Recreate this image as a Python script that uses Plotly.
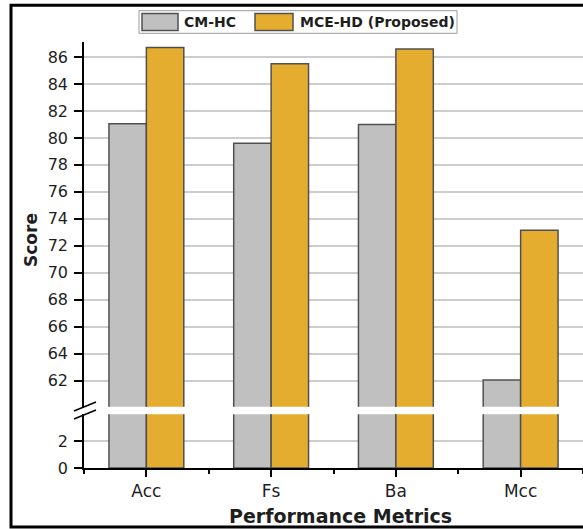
import plotly.graph_objects as go

# ---- data -------------------------------------------------------------
categories = ["Acc", "Fs", "Ba", "Mcc"]
series_names = ["CM-HC", "MCE-HD (Proposed)"]
cm_hc = [81.05, 79.6, 81.0, 62.05]
mce_hd = [86.7, 85.5, 86.6, 73.15]
upper_ticks = [62, 64, 66, 68, 70, 72, 74, 76, 78, 80, 82, 84, 86]
lower_ticks = [0, 2]

# ---- styling ----------------------------------------------------------
W, H = 583, 529
L, R, T, B = 84, 0, 42, 61
FONT = "DejaVu Sans"
TXT = "#1e1e1e"
fills = ["#c0c0c0", "#e5ad2f"]
edge = "#505050"
GRID = "#cdcdcd"

pw, ph = W - L - R, H - T - B


def px(x):
    return (x - L) / pw


def py(y):
    return (H - B - y) / ph


xs = list(range(len(categories)))
values = [cm_hc, mce_hd]

fig = go.Figure()
# the same bars are drawn on both halves of the broken axis
for yax in ["y", "y2"]:
    for i, (name, vals) in enumerate(zip(series_names, values)):
        fig.add_trace(go.Bar(
            x=xs, y=vals, name=name, yaxis=yax, offsetgroup=str(i),
            marker=dict(color=fills[i], line=dict(color=edge, width=1.5)),
            showlegend=False, hoverinfo="x+y",
        ))

axis_common = dict(
    showline=True, linecolor="black", linewidth=1.5,
    ticks="outside", ticklen=8, tickwidth=1.5, tickcolor="black",
    showgrid=True, gridcolor=GRID, gridwidth=1.5, zeroline=False,
    tickfont=dict(family=FONT, size=16, color=TXT),
    ticklabelstandoff=3,
)

fig.update_layout(
    width=W, height=H,
    margin=dict(l=L, r=R, t=T, b=B, pad=0),
    paper_bgcolor="white", plot_bgcolor="white",
    barmode="group", bargap=0.4, bargroupgap=0,
    showlegend=False,
    xaxis=dict(
        range=[-0.5, 3.5], tickvals=xs, ticktext=categories,
        showline=True, linecolor="black", linewidth=1.5,
        ticks="outside", ticklen=7, tickwidth=1.5, tickcolor="black",
        minor=dict(tick0=0.5, dtick=1, ticks="outside", ticklen=4,
                   tickwidth=1.5, tickcolor="black"),
        showgrid=False, zeroline=False, anchor="y",
        tickfont=dict(family=FONT, size=17, color=TXT),
    ),
    yaxis=dict(domain=[0, py(414.3)], range=[0, 4], tickvals=lower_ticks,
               **axis_common),
    yaxis2=dict(domain=[py(406.7), 1], range=[60.07, 87.11],
                tickvals=upper_ticks, anchor="x", **axis_common),
)

shapes = []
# axis-break marks on the y axis
for y0, y1 in [(411, 402), (419, 410)]:
    shapes.append(dict(type="line", xref="paper", yref="paper",
                       x0=px(74), y0=py(y0), x1=px(96), y1=py(y1),
                       line=dict(color="black", width=1.5)))

# legend box with swatches
shapes.append(dict(type="rect", xref="paper", yref="paper",
                   x0=px(139), x1=px(457), y0=py(33.3), y1=py(10.7),
                   line=dict(color="#9a9a9a", width=1), fillcolor="white"))
swatch_x = [(142, 178), (255, 293)]
text_x = [182, 298]
annotations = []
for i, name in enumerate(series_names):
    a, b = swatch_x[i]
    shapes.append(dict(type="rect", xref="paper", yref="paper",
                       x0=px(a), x1=px(b), y0=py(30.5), y1=py(13.5),
                       line=dict(color=edge, width=1.5), fillcolor=fills[i]))
    annotations.append(dict(xref="paper", yref="paper", x=px(text_x[i]),
                            y=py(22), xanchor="left", yanchor="middle",
                            text=f"<b>{name}</b>", showarrow=False,
                            font=dict(family=FONT, size=14, color=TXT)))

# outer frame
shapes.append(dict(type="rect", xref="paper", yref="paper",
                   x0=px(11), x1=px(600), y0=py(527), y1=py(5.3),
                   line=dict(color="black", width=3), fillcolor="rgba(0,0,0,0)"))

# axis titles
annotations.append(dict(xref="paper", yref="paper", x=px(31), y=py(240),
                        text="<b>Score</b>", textangle=-90, showarrow=False,
                        xanchor="center", yanchor="middle",
                        font=dict(family=FONT, size=17, color=TXT)))
annotations.append(dict(xref="paper", yref="paper", x=px(340), y=py(516),
                        text="<b>Performance Metrics</b>", showarrow=False,
                        xanchor="center", yanchor="middle",
                        font=dict(family=FONT, size=19, color=TXT)))

fig.update_layout(shapes=shapes, annotations=annotations)

fig.write_html("out.html")
